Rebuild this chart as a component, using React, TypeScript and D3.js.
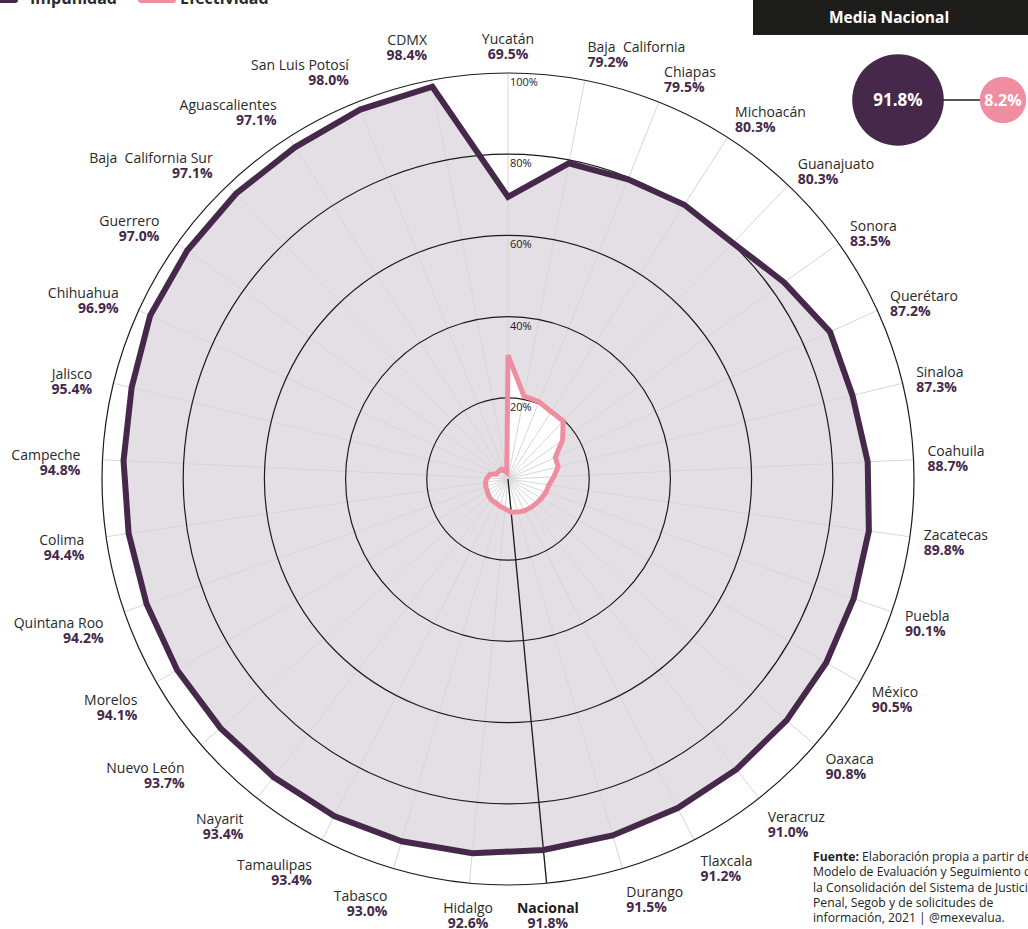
import React from 'react';
import * as d3 from 'd3';

const states = [
  'Yucatán', 'Baja  California', 'Chiapas', 'Michoacán', 'Guanajuato', 'Sonora', 'Querétaro',
  'Sinaloa', 'Coahuila', 'Zacatecas', 'Puebla', 'México', 'Oaxaca', 'Veracruz', 'Tlaxcala',
  'Durango', 'Nacional', 'Hidalgo', 'Tabasco', 'Tamaulipas', 'Nayarit', 'Nuevo León', 'Morelos',
  'Quintana Roo', 'Colima', 'Campeche', 'Jalisco', 'Chihuahua', 'Guerrero', 'Baja  California Sur',
  'Aguascalientes', 'San Luis Potosí', 'CDMX',
];
const impunidad = [
  69.5, 79.2, 79.5, 80.3, 80.3, 83.5, 87.2, 87.3, 88.7, 89.8, 90.1, 90.5, 90.8, 91.0, 91.2,
  91.5, 91.8, 92.6, 93.0, 93.4, 93.4, 93.7, 94.1, 94.2, 94.4, 94.8, 95.4, 96.9, 97.0, 97.1,
  97.1, 98.0, 98.4,
];
const efectividad = [
  30.5, 20.8, 20.5, 19.7, 19.7, 16.5, 12.8, 12.7, 11.3, 10.2, 9.9, 9.5, 9.2, 9.0, 8.8,
  8.5, 8.2, 7.4, 7.0, 6.6, 6.6, 6.3, 5.9, 5.8, 5.6, 5.2, 4.6, 3.1, 3.0, 2.9,
  2.9, 2.0, 1.6,
];
const ringTicks = [20, 40, 60, 80, 100];
const mediaNacional = [
  { key: 'Impunidad', value: 91.8 },
  { key: 'Efectividad', value: 8.2 },
];
const sourceLines = [
  'Elaboración propia a partir del',
  'Modelo de Evaluación y Seguimiento de',
  'la Consolidación del Sistema de Justicia',
  'Penal, Segob y de solicitudes de',
  'información, 2021 | @mexevalua.',
];

const DARK = '#45284a';
const PINK = '#f08ea1';
const FILL = '#e4dfe5';
const FONT = "'Open Sans', sans-serif";

export default function App() {
  const width = 1028;
  const height = 929;
  const cx = 508;
  const cy = 479;
  const outer = 406;

  const r = d3.scaleLinear().domain([0, 100]).range([0, outer]);
  const angle = d3.scaleLinear().domain([0, states.length]).range([0, 2 * Math.PI]);

  const radial = d3.lineRadial<number>()
    .angle((d, i) => angle(i))
    .radius((d) => r(d))
    .curve(d3.curveLinearClosed);

  const natIdx = states.indexOf('Nacional');

  // label placement round the outer ring
  const labels = states.map((name, i) => {
    const a = angle(i);
    const s = Math.sin(a);
    const c = Math.cos(a);
    const left = s < -0.15;
    const rad = left ? 428 : 420;
    const px = cx + rad * s;
    const py = cy - rad * c;
    const anchor = s > 0.15 ? 'start' : left ? 'end' : 'middle';
    let off = c > 0 ? -12 * Math.pow(c, 4) : 2 - 17 * c;
    if (left && c < 0.3 && c > -0.7) off += 4;
    if (left && c <= -0.7) off -= 4;
    return { name, value: impunidad[i], x: px, y: py + off, anchor, bold: i === natIdx };
  });

  const bubbleR = d3.scaleLinear().domain([0, 100]).range([21, 48]);
  const bx = d3.scalePoint<string>().domain(mediaNacional.map((d) => d.key)).range([898, 1003]);

  return (
    <svg width={width} height={height} style={{ position: 'absolute', left: 0, top: 0, fontFamily: FONT }}>
      <rect width={width} height={height} fill="#fff" />

      {/* legend, cut at the top edge */}
      <rect x={-20} y={-12} width={38} height={15} rx={3} fill={DARK} />
      <text x={30} y={4} fontSize={16} fontWeight={700} fill="#2a2a2a">Impunidad</text>
      <rect x={138} y={-12} width={38} height={15} rx={3} fill={PINK} />
      <text x={180} y={4} fontSize={16} fontWeight={700} fill="#2a2a2a">Efectividad</text>

      <g transform={`translate(${cx},${cy})`}>
        <path d={radial(impunidad) || ''} fill={FILL} />
        <path d={radial(efectividad) || ''} fill="#fff" />
        {states.map((d, i) => {
          const a = angle(i);
          return (
            <line key={d} x1={0} y1={0} x2={r(100) * Math.sin(a)} y2={-r(100) * Math.cos(a)}
              stroke="#d6d6d6" strokeWidth={1} />
          );
        })}
        {ringTicks.map((t) => (
          <circle key={t} r={r(t)} fill="none" stroke="#1c1c1c" strokeWidth={1.2} />
        ))}
        <line x1={0} y1={0} x2={r(100) * Math.sin(angle(natIdx))} y2={-r(100) * Math.cos(angle(natIdx))}
          stroke="#1c1c1c" strokeWidth={1.3} />
        <path d={radial(impunidad) || ''} fill="none" stroke={DARK} strokeWidth={6} />
        <path d={radial(efectividad) || ''} fill="none" stroke={PINK} strokeWidth={5} />
        {ringTicks.map((t) => (
          <text key={t} x={2} y={-r(t) + 13} fontSize={11} fill="#222">{`${t}%`}</text>
        ))}
      </g>

      {labels.map((d) => (
        <g key={d.name}>
          <text x={d.x} y={d.y - 3} textAnchor={d.anchor} fontSize={14}
            fontWeight={d.bold ? 700 : 400} fill={d.bold ? '#1c1c1c' : '#2a2a2a'}
            style={{ whiteSpace: 'pre' }}>{d.name}</text>
          <text x={d.x} y={d.y + 12} textAnchor={d.anchor} fontSize={14} fontWeight={700} fill={DARK}>
            {`${d.value.toFixed(1)}%`}
          </text>
        </g>
      ))}

      {/* Media Nacional */}
      <rect x={753} y={-2} width={290} height={37} fill="#1d1d1b" />
      <text x={889} y={23} textAnchor="middle" fontSize={15.5} fontWeight={700} fill="#fff">Media Nacional</text>
      <line x1={bx('Impunidad')} x2={bx('Efectividad')} y1={100} y2={100} stroke="#1c1c1c" strokeWidth={1.3} />
      {mediaNacional.map((d, i) => (
        <g key={d.key}>
          <circle cx={bx(d.key)} cy={100} r={bubbleR(d.value)} fill={i === 0 ? DARK : PINK} />
          <text x={bx(d.key)} y={106} textAnchor="middle" fontSize={i === 0 ? 17 : 16} fontWeight={700} fill="#fff">
            {`${d.value.toFixed(1)}%`}
          </text>
        </g>
      ))}

      {/* source */}
      <text x={813} y={861} fontSize={12.2} fill="#222">
        <tspan fontWeight={700}>Fuente: </tspan>
        {sourceLines[0]}
      </text>
      {sourceLines.slice(1).map((l, i) => (
        <text key={l} x={813} y={861 + (i + 1) * 15.3} fontSize={12.2} fill="#222">{l}</text>
      ))}
    </svg>
  );
}
